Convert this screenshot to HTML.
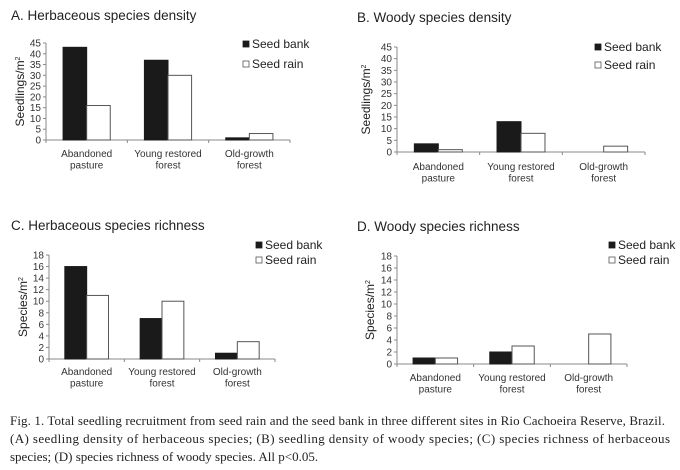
<!DOCTYPE html>
<html><head><meta charset="utf-8"><style>
body{margin:0;background:#fff;}
svg{display:block;}
</style></head><body>
<svg id="fig" width="680" height="470" xmlns="http://www.w3.org/2000/svg" font-family="Liberation Sans, sans-serif">
<g font-family="Liberation Serif, serif" font-size="13" fill="#222">
<text x="10" y="425" textLength="655" lengthAdjust="spacing">Fig. 1. Total seedling recruitment from seed rain and the seed bank in three different sites in Rio Cachoeira Reserve, Brazil.</text>
<text x="10" y="443" textLength="660" lengthAdjust="spacing">(A) seedling density of herbaceous species; (B) seedling density of woody species; (C) species richness of herbaceous</text>
<text x="10" y="461">species; (D) species richness of woody species. All p&lt;0.05.</text>
</g>
</svg>
<script>
const categories = [["Abandoned","pasture"],["Young restored","forest"],["Old-growth","forest"]];
const seriesNames = ["Seed bank","Seed rain"];
const bankA = [43, 37, 1];
const rainA = [16, 30, 3];
const bankB = [3.5, 13, 0];
const rainB = [1, 8, 2.5];
const bankC = [16, 7, 1];
const rainC = [11, 10, 3];
const bankD = [1, 2, 0];
const rainD = [1, 3, 5];
const ticksDensity = [0,5,10,15,20,25,30,35,40,45];
const ticksRichness = [0,2,4,6,8,10,12,14,16,18];

const NS = "http://www.w3.org/2000/svg";
const svg = document.getElementById('fig');
function mk(tag, attrs, parent){const e=document.createElementNS(NS,tag);for(const k in attrs)e.setAttribute(k,attrs[k]);parent.appendChild(e);return e;}

function chart(cfg){
  const g = mk('g',{},svg);
  
  
  const {x0,x1,y0,yTop,max,ticks} = cfg;
  const ys = v => y0 - (v/max)*(y0-yTop);
  const cw = (x1-x0)/categories.length;
  const bw = cw*0.29;
  const t = mk('text',{x:cfg.tx,y:cfg.ty,'font-size':13.5,fill:'#222'},g);
  t.textContent = cfg.title;
  
  
  // y axis
  const ya = mk('line',{x1:x0,y1:yTop,x2:x0,y2:y0,stroke:'#888','stroke-width':1},g);
  
  
  const xa = mk('line',{x1:x0,y1:y0,x2:x1,y2:y0,stroke:'#888','stroke-width':1},g);
  
  
  ticks.forEach(v=>{
    mk('line',{x1:x0-3,y1:ys(v),x2:x0,y2:ys(v),stroke:'#888'},g);
    const tl = mk('text',{x:x0-5,y:ys(v)+3.5,'font-size':10,'text-anchor':'end',fill:'#333'},g);
    tl.textContent = v;
    
    
  });
  for(let i=0;i<=categories.length;i++){
    mk('line',{x1:x0+i*cw,y1:y0,x2:x0+i*cw,y2:y0+3,stroke:'#888'},g);
  }
  const yt = mk('text',{transform:`translate(${cfg.ytx},${(y0+yTop)/2}) rotate(-90)`,'font-size':12,'text-anchor':'middle',fill:'#222'},g);
  yt.textContent = cfg.ylabel;
  const sup = mk('tspan',{'font-size':7,dy:-4},yt); sup.textContent='2';
  
  
  categories.forEach((c,i)=>{
    const cx = x0 + cw*(i+0.5);
    [cfg.bank, cfg.rain].forEach((arr,s)=>{
      const v = arr[i];
      if(v<=0) return;
      const bx = s===0 ? cx-bw : cx;
      const r = mk('rect',{x:bx,y:ys(v),width:bw,height:y0-ys(v),fill:s===0?'#1a1a1a':'#fff',stroke:s===0?'#1a1a1a':'#555','stroke-width':1},g);
      
      
    });
    c.forEach((line,j)=>{
      const ct = mk('text',{x:cx,y:cfg.ly+j*11.5,'font-size':10,'text-anchor':'middle',fill:'#333'},g);
      ct.textContent = line;
      
      
    });
  });
  seriesNames.forEach((n,s)=>{
    const ly = cfg.legy + s*cfg.legdy;
    const lr = mk('rect',{x:cfg.legx,y:ly-6,width:6,height:6,fill:s===0?'#1a1a1a':'#fff',stroke:s===0?'#1a1a1a':'#555','stroke-width':0.8},g);
    
    
    const lt = mk('text',{x:cfg.legx+9,y:ly+1,'font-size':12,fill:'#222'},g);
    lt.textContent = n;
    
    
  });
}
chart({name:'chart-a-herbaceous-density',title:'A. Herbaceous species density',tx:11,ty:20,x0:46,x1:290,y0:140,yTop:43,max:45,ticks:ticksDensity,bank:bankA,rain:rainA,ylabel:'Seedlings/m',ytx:24,ly:157,legx:243,legy:47,legdy:20});
chart({name:'chart-b-woody-density',title:'B. Woody species density',tx:357,ty:22,x0:397,x1:645,y0:152,yTop:47,max:45,ticks:ticksDensity,bank:bankB,rain:rainB,ylabel:'Seedlings/m',ytx:370,ly:170,legx:595,legy:50,legdy:18});
chart({name:'chart-c-herbaceous-richness',title:'C. Herbaceous species richness',tx:11,ty:230,x0:49,x1:275,y0:359,yTop:255,max:18,ticks:ticksRichness,bank:bankC,rain:rainC,ylabel:'Species/m',ytx:27,ly:375,legx:256,legy:248,legdy:15});
chart({name:'chart-d-woody-richness',title:'D. Woody species richness',tx:357,ty:231,x0:397,x1:627,y0:364,yTop:256,max:18,ticks:ticksRichness,bank:bankD,rain:rainD,ylabel:'Species/m',ytx:374,ly:381,legx:609,legy:248,legdy:15});
</script>
</body></html>
